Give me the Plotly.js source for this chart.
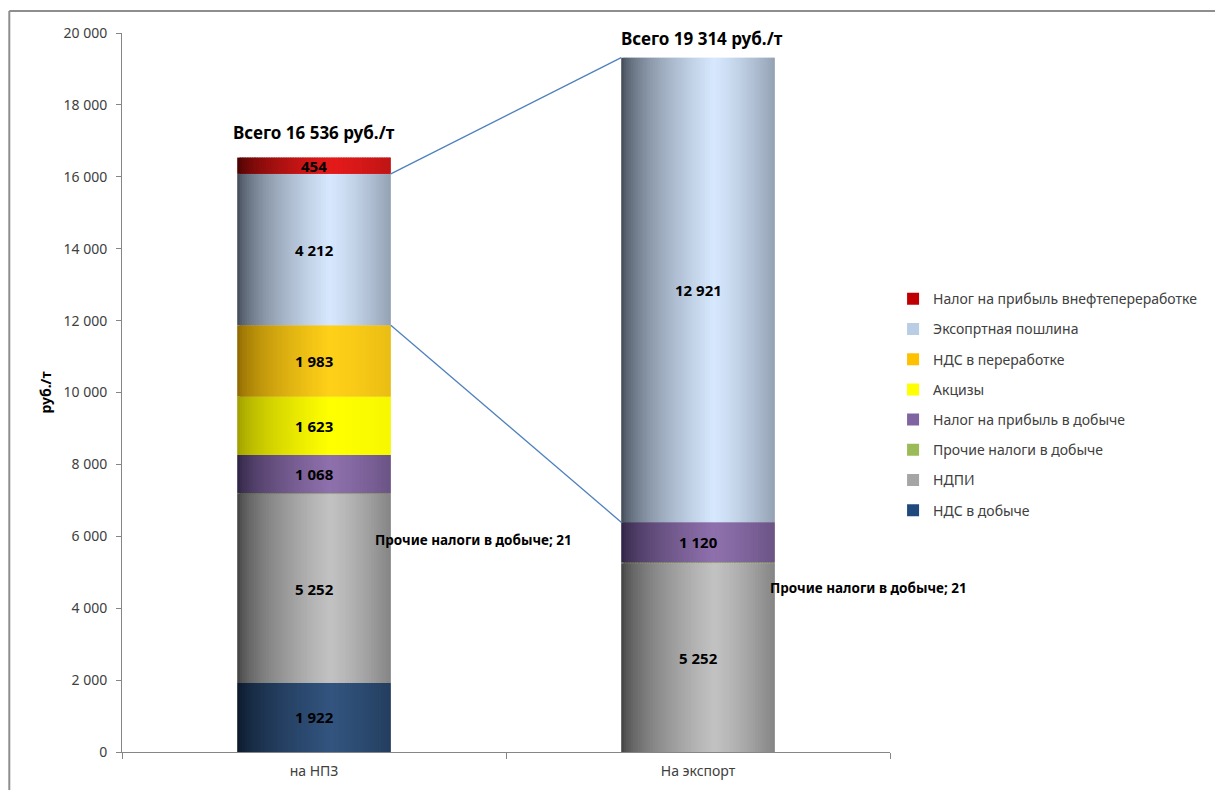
<!DOCTYPE html>
<html>
<head>
<meta charset="utf-8">
<script src="https://cdn.plot.ly/plotly-3.0.1.min.js"></script>
<style>
  html, body { margin: 0; padding: 0; background: #ffffff; }
  #chart { width: 1215px; height: 790px; }
</style>
</head>
<body>
<div id="chart"></div>
<script>
// Categories (x axis)
const categories = ['на НПЗ', 'На экспорт'];

// Series, stacked bottom to top
const seriesNames = [
  'НДС в добыче',
  'НДПИ',
  'Прочие налоги в добыче',
  'Налог на прибыль в добыче',
  'Акцизы',
  'НДС в переработке',
  'Эксопртная пошлина',
  'Налог на прибыль внефтепереработке'
];
const ndsDobycha      = [1922, 0];
const ndpi            = [5252, 5252];
const prochieNalogi   = [21, 21];
const pribylDobycha   = [1068, 1120];
const akcizy          = [1623, 0];
const ndsPererabotka  = [1983, 0];
const exportPoshlina  = [4212, 12921];
const pribylPererab   = [454, 0];
const seriesValues = [ndsDobycha, ndpi, prochieNalogi, pribylDobycha,
                      akcizy, ndsPererabotka, exportPoshlina, pribylPererab];

const totalLabels = ['Всего 16 536 руб./т', 'Всего 19 314 руб./т'];
const smallSeriesLabel = 'Прочие налоги в добыче; 21';

// Colour styling: legend swatch + dark edge / highlight for cylinder shading
const legendColors = ['#1f497d', '#a5a5a5', '#9bbb59', '#8064a2',
                      '#ffff00', '#ffc000', '#b9cde5', '#c00000'];
const darkRGB  = [[8,20,36],[58,58,58],[60,80,30],[40,30,60],
                  [150,150,0],[135,98,0],[56,64,76],[62,0,0]];
const lightRGB = [[50,84,126],[194,194,194],[160,192,95],[142,112,172],
                  [255,255,0],[255,208,24],[214,232,254],[228,26,26]];
const rightDrop = [0.35, 0.45, 0.35, 0.35, 0.08, 0.18, 0.42, 0.22];

const BAR_W = 0.4;
const SLICES = 64;

function fmt(v) {
  return String(v).replace(/\B(?=(\d{3})+(?!\d))/g, ' ');
}
function shade(t, drop) {
  if (t < 0.6) return Math.pow(t / 0.6, 0.55);
  return 1 - drop * Math.pow((t - 0.6) / 0.4, 1.3);
}
function mix(a, b, f) {
  return 'rgb(' + a.map((c, i) => Math.round(c + (b[i] - c) * f)).join(',') + ')';
}

// cumulative bases for each series
const bases = [];
let running = categories.map(() => 0);
seriesValues.forEach(vals => {
  bases.push(running.slice());
  running = running.map((r, i) => r + vals[i]);
});
const totals = running;

// flattened segment list (series x category) used by every slice trace
const segX = [], segY = [], segBase = [], segSeries = [];
seriesValues.forEach((vals, s) => {
  vals.forEach((v, i) => {
    segX.push(categories[i]);
    segY.push(v);
    segBase.push(bases[s][i]);
    segSeries.push(s);
  });
});

const traces = [];
// vertical slices give each bar a cylinder-like shading; slices overlap slightly
const sliceW = BAR_W / SLICES;
for (let k = 0; k < SLICES; k++) {
  const t = (k + 0.5) / SLICES;
  const last = k === SLICES - 1;
  traces.push({
    type: 'bar',
    x: segX,
    y: segY,
    base: segBase,
    width: last ? sliceW : sliceW * 1.8,
    offset: -BAR_W / 2 + k * sliceW,
    marker: {
      color: segSeries.map(s => mix(darkRGB[s], lightRGB[s], shade(t, rightDrop[s]))),
      line: { width: 0 }
    },
    showlegend: false,
    hoverinfo: 'skip'
  });
}
// legend entries, top series first
for (let s = seriesNames.length - 1; s >= 0; s--) {
  traces.push({
    type: 'bar',
    x: categories,
    y: [null, null],
    name: seriesNames[s],
    legendgroup: 'g' + s,
    marker: { color: legendColors[s] },
    showlegend: true
  });
}

const annotations = [];
const labelFont = { family: 'Noto Sans, sans-serif', size: 15, color: '#000000' };
const smallFont = { family: 'Noto Sans, sans-serif', size: 13.5, color: '#000000' };
seriesValues.forEach((vals, s) => {
  vals.forEach((v, i) => {
    if (!v) return;
    if (seriesNames[s] === 'Прочие налоги в добыче') {
      annotations.push({
        x: categories[i], y: bases[s][i] + v / 2, xref: 'x', yref: 'y',
        text: '<b>' + smallSeriesLabel + '</b>', showarrow: false,
        xshift: i === 0 ? 159 : 170, yshift: i === 0 ? -46 : -25,
        font: smallFont
      });
    } else {
      annotations.push({
        x: categories[i], y: bases[s][i] + v / 2, xref: 'x', yref: 'y',
        text: '<b>' + fmt(v) + '</b>', showarrow: false, font: labelFont
      });
    }
  });
});
totals.forEach((tot, i) => {
  annotations.push({
    x: categories[i], y: tot, xref: 'x', yref: 'y', yanchor: 'bottom',
    text: '<b>' + totalLabels[i] + '</b>', showarrow: false,
    xshift: i === 0 ? 0 : 4, yshift: i === 0 ? 12 : 6,
    font: { family: 'Noto Sans, sans-serif', size: 17, color: '#000000' }
  });
});

// connector lines spanning the export duty segment between the two bars
const expIdx = seriesNames.indexOf('Эксопртная пошлина');
const lineStyle = { color: '#4f81bd', width: 1.3 };
const frameStyle = { color: '#8e8e8e', width: 2 };
const shapes = [
  { type: 'line', xref: 'x', yref: 'y',
    x0: 0 + BAR_W / 2, y0: bases[expIdx][0] + exportPoshlina[0],
    x1: 1 - BAR_W / 2, y1: bases[expIdx][1] + exportPoshlina[1], line: lineStyle },
  { type: 'line', xref: 'x', yref: 'y',
    x0: 0 + BAR_W / 2, y0: bases[expIdx][0],
    x1: 1 - BAR_W / 2, y1: bases[expIdx][1], line: lineStyle },
  // outer chart frame (top and left edges)
  { type: 'line', xref: 'paper', yref: 'paper',
    x0: -113 / 770, x1: 1.45, y0: 1 + 22 / 719, y1: 1 + 22 / 719, line: frameStyle },
  { type: 'line', xref: 'paper', yref: 'paper',
    x0: -113 / 770, x1: -113 / 770, y0: 1 + 22 / 719, y1: -0.06, line: frameStyle }
];

const layout = {
  width: 1215, height: 790,
  margin: { l: 122, r: 323, t: 33, b: 38 },
  paper_bgcolor: '#ffffff', plot_bgcolor: '#ffffff',
  barmode: 'overlay',
  separators: ', ',
  font: { family: 'Noto Sans, sans-serif', size: 14, color: '#404040' },
  showlegend: true,
  legend: {
    x: 1.004, xanchor: 'left', y: 0.652, yanchor: 'top',
    traceorder: 'grouped', tracegroupgap: 9, itemwidth: 30,
    font: { family: 'Noto Sans, sans-serif', size: 14, color: '#404040' },
    itemclick: false, itemdoubleclick: false
  },
  xaxis: {
    type: 'category', range: [-0.5, 1.5], fixedrange: true,
    showline: true, linecolor: '#868686', linewidth: 1,
    ticks: 'outside', tickson: 'boundaries', ticklen: 6, tickcolor: '#868686',
    ticklabelstandoff: 6,
    showgrid: false, zeroline: false,
    tickfont: { size: 14, color: '#404040' }
  },
  yaxis: {
    range: [0, 20000], dtick: 2000, tickformat: ',d', fixedrange: true,
    showline: true, linecolor: '#868686', linewidth: 1,
    ticks: 'outside', ticklen: 5, tickcolor: '#868686', ticklabelstandoff: 6,
    showgrid: false, zeroline: false,
    tickfont: { size: 14, color: '#404040' },
    title: { text: '<b>руб./т</b>', standoff: 8,
             font: { size: 14, color: '#000000' } }
  },
  annotations: annotations,
  shapes: shapes
};

Plotly.newPlot('chart', traces, layout, { displayModeBar: false, staticPlot: true });
</script>
</body>
</html>
